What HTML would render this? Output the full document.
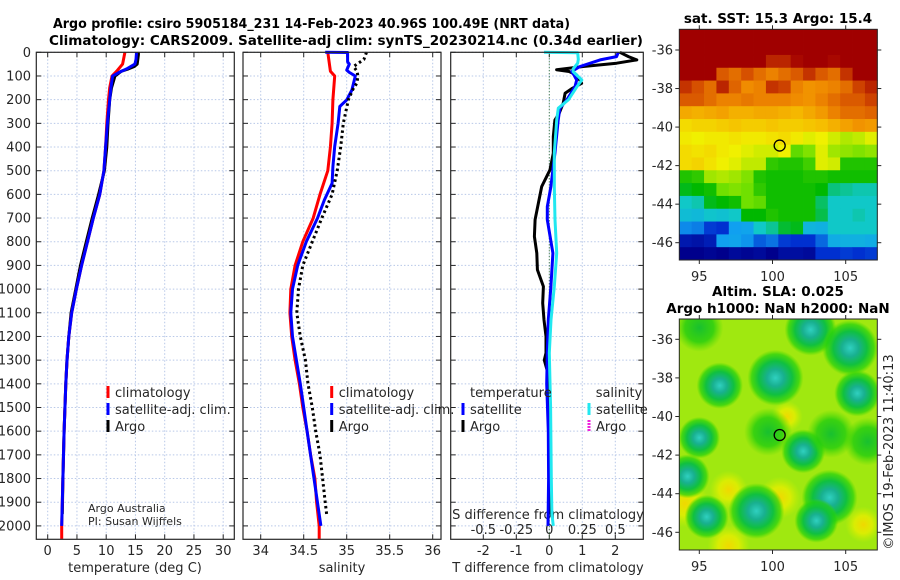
<!DOCTYPE html>
<html><head><meta charset="utf-8"><style>
html,body{margin:0;padding:0;background:#fff}
svg{display:block;font-family:"DejaVu Sans","Liberation Sans",sans-serif}
.t{font-size:13px;fill:#262626}
.ti{font-size:13.5px;font-weight:bold;fill:#000}
</style></head><body>
<svg id="fig" width="900" height="580" viewBox="0 0 900 580" xmlns="http://www.w3.org/2000/svg">
<rect width="900" height="580" fill="#fff"/>
<text class="ti" x="53" y="28" textLength="517" lengthAdjust="spacingAndGlyphs">Argo profile: csiro 5905184_231 14-Feb-2023 40.96S 100.49E (NRT data)</text>
<text class="ti" x="49" y="45" textLength="594" lengthAdjust="spacingAndGlyphs">Climatology: CARS2009. Satellite-adj clim: synTS_20230214.nc (0.34d earlier)</text>
<text class="ti" x="778" y="23" text-anchor="middle">sat. SST: 15.3 Argo: 15.4</text>
<text class="ti" x="778" y="296" text-anchor="middle">Altim. SLA: 0.025</text>
<text class="ti" x="778" y="313" text-anchor="middle">Argo h1000: NaN h2000: NaN</text>
<text class="t" x="135" y="572" text-anchor="middle">temperature (deg C)</text>
<text class="t" x="342" y="572" text-anchor="middle">salinity</text>
<text class="t" x="548" y="572" text-anchor="middle">T difference from climatology</text>
<text class="t" x="548" y="519" text-anchor="middle">S difference from climatology</text>
<text x="88" y="512" style="font-size:11px;fill:#262626">Argo Australia</text>
<text x="88" y="525" style="font-size:11px;fill:#262626">PI: Susan Wijffels</text>
<text class="t" transform="translate(893,452) rotate(-90)" text-anchor="middle">©IMOS 19-Feb-2023 11:40:13</text>
<g id="layer"></g>
</svg>
<script>
// ---------- data ----------
const depthTicks=[0,100,200,300,400,500,600,700,800,900,1000,1100,1200,1300,1400,1500,1600,1700,1800,1900,2000];
const tempTicks=[0,5,10,15,20,25,30];
const salTicks=[34,34.5,35,35.5,36];
const salTickLabels=["34","34.5","35","35.5","36"];
const tdiffTicks=[-2,-1,0,1,2];
const sdiffTicks=[-0.5,-0.25,0,0.25,0.5];
const sdiffTickLabels=["-0.5","-0.25","0","0.25","0.5"];

const argoTDepth=[0,10,30,50,60,70,80,100,150,200,300,400,500,600,700,800,900,1000,1100,1200,1300,1400,1600,1800,1950];
const argoTemp=[15.5,15.5,15.4,15.3,14.8,13.8,12.6,11.5,10.9,10.6,10.3,10.1,9.7,8.7,7.6,6.6,5.6,4.8,4.0,3.6,3.3,3.1,2.8,2.6,2.5];
const climTDepth=[0,50,80,100,150,200,300,400,500,600,700,800,900,1000,1100,1200,1300,1400,1600,1800,2000,2055];
const climTemp=[13.2,12.8,11.8,11.0,10.6,10.4,10.1,9.9,9.6,8.9,7.8,6.8,5.8,4.9,4.1,3.6,3.3,3.1,2.8,2.6,2.4,2.4];
const satTDepth=[0,30,50,70,85,100,150,200,300,400,500,600,700,800,900,1000,1100,1200,1300,1400,1600,1800,2000];
const satTemp=[15.2,15.1,14.9,13.5,12.2,11.1,10.8,10.6,10.2,9.9,9.6,8.9,7.8,6.8,5.8,4.9,4.1,3.6,3.3,3.1,2.8,2.6,2.4];

const climSDepth=[0,80,100,200,300,400,500,600,700,800,900,1000,1100,1200,1300,1400,1500,1600,1700,1800,1900,2000,2055];
const climSal=[34.78,34.81,34.86,34.84,34.83,34.81,34.78,34.69,34.61,34.49,34.40,34.35,34.34,34.36,34.40,34.45,34.49,34.54,34.58,34.63,34.65,34.68,34.68];
const satSDepth=[0,1,40,50,75,85,100,159,201,229,300,398,483,553,624,700,800,900,1000,1100,1200,1400,1600,1800,2000];
const satSal=[34.75,35.01,35.01,35.03,35.0,35.03,35.10,35.06,35.0,34.92,34.90,34.86,34.84,34.83,34.74,34.66,34.53,34.43,34.37,34.35,34.37,34.46,34.54,34.62,34.70];
const argoSDepth=[0,30,50,60,80,100,130,150,200,300,400,500,600,700,800,900,1000,1100,1200,1300,1400,1500,1600,1700,1800,1900,1960];
const argoSal=[35.23,35.2,35.12,35.08,35.12,35.13,35.12,35.08,35.02,34.96,34.93,34.89,34.83,34.71,34.60,34.49,34.44,34.42,34.46,34.52,34.55,34.60,34.64,34.69,34.72,34.75,34.77];

const satTdDepth=[0,18,32,60,81,96,117,145,201,236,286,426,567,652,707,848,989,1130,1270,1400,1600,1800,2000];
const satTdiff=[2.09,2.04,1.54,0.93,0.68,0.75,0.83,0.78,0.53,0.32,0.27,0.17,0.05,-0.06,-0.06,0.11,0.05,-0.03,-0.06,-0.08,-0.03,-0.02,-0.04];
const argoTdDepth=[0,18,32,46,60,74,81,96,131,152,173,215,257,286,356,426,496,567,637,707,778,848,918,989,1059,1130,1200,1270,1300,1350,1500,1950];
const argoTdiff=[2.14,2.4,2.65,2.04,1.03,0.22,0.6,0.83,0.98,0.7,0.48,0.42,0.3,0.17,0.12,0.12,0.02,-0.23,-0.33,-0.43,-0.45,-0.38,-0.36,-0.18,-0.2,-0.16,-0.1,-0.1,-0.15,-0.05,0,0];
const satSdDepth=[0,2,30,46,70,81,117,145,201,236,286,426,567,707,848,989,1130,1270,1500,1800,1950,2000];
const satSdiff=[-0.04,0.215,0.22,0.215,0.18,0.18,0.246,0.21,0.144,0.068,0.056,0.038,0.038,0.043,0.056,0.038,0.013,0,0.01,0.015,0.02,0.03];

const lonTicks=[95,100,105];
const latTicks=[-36,-38,-40,-42,-44,-46];
const argoLon=[100.49];
const argoLat=[-40.96];
const sstRows=[
[17,17,17,17,17,17,17,17,17,17,17,17,17,17,17,17],
[17,17,17,17,17,17,17,17,17,17,17,17,17,17,17,17],
[17,17,17,17,17,17,17,16.6,16.6,16.8,17,17,16.8,17,17,17],
[17,17,17,16.2,16,16.3,16,15.8,16,16.2,16.5,16.2,16,16.5,17,17],
[16.5,16.3,16,16.6,16.1,15.7,15.8,16.5,16.4,15.8,15.6,15.7,15.8,16,16.4,16.6],
[16.2,16.2,16,15.8,15.8,15.9,15.8,15.8,15.8,15.7,15.6,15.8,16,16.2,16.2,16.4],
[15.3,15.2,15.3,15.4,15.2,15.2,15.3,15.3,15.2,15.1,15.3,15.5,15.8,16,16,16.1],
[14.6,14.7,14.7,14.8,14.9,14.8,14.8,14.9,14.8,14.8,14.9,15,15.2,15.4,15.6,15.5],
[14.4,14.3,14.4,14.4,14.5,14.4,14.4,14.5,14.6,14.4,14.2,14.3,14.1,13.9,14,14.2],
[14.6,14.5,14.6,14.4,14.3,14.2,14.1,14.1,14.3,13.4,13.6,14.2,13.8,13.7,13.6,13.7],
[14.6,14.7,14.5,14.3,14.2,14.0,14.0,13.1,13.0,13.0,13.2,14.2,14.1,13.0,13.0,13.0],
[13.0,13.1,13.8,13.9,13.8,13.6,13.0,12.9,12.9,12.9,13.0,13.0,12.9,12.9,12.9,12.9],
[12.7,12.8,12.9,13.5,13.6,13.5,13.1,12.9,12.9,12.9,12.9,12.8,12.3,12.2,12.1,12.1],
[12.0,12.1,12.7,12.8,12.9,13.5,13.4,12.9,12.9,12.9,12.9,12.4,12.0,12.0,12.0,12.0],
[11.7,11.6,11.9,11.8,12.0,12.8,12.8,13.0,12.9,12.9,12.9,12.5,12.0,12.0,12.1,12.0],
[10.8,10.7,10.1,10.0,11.0,11.1,12.0,12.2,12.6,12.7,11.5,11.4,12.0,12.0,12.0,12.0],
[9.5,9.4,9.6,11.0,11.1,10.9,10.4,10.6,10.1,10.0,10.0,10.5,11.3,11.4,11.4,11.3],
[9.0,9.0,9.1,9.0,9.2,9.1,9.2,9.0,9.3,9.3,9.2,10.0,10.0,10.1,10.0,10.1]];
const eddyLon=[102.6,105.3,95.0,96.4,100.2,105.8,95.0,99.7,102.1,104.0,94.2,103.9,103.0,98.9,95.5,106.5];
const eddyLat=[-35.5,-36.45,-35.4,-38.4,-38.0,-38.8,-41.1,-40.8,-41.8,-40.9,-43.1,-44.2,-45.4,-44.9,-45.2,-41.3];
const eddySla=[-0.25,-0.3,-0.08,-0.18,-0.3,-0.18,-0.12,-0.08,-0.15,-0.08,-0.15,-0.3,-0.15,-0.3,-0.15,-0.08];
const highLon=[97.0,100.5,94.0,106.2,97.0,101.0];
const highLat=[-43.8,-44.2,-44.5,-45.6,-46.7,-40.0];
const highSla=[0.12,0.15,0.2,0.1,0.15,0.06];

// ---------- helpers ----------
const NS="http://www.w3.org/2000/svg";
const layer=document.getElementById('layer');
function el(tag,attrs,parent){const e=document.createElementNS(NS,tag);for(const k in attrs)e.setAttribute(k,attrs[k]);(parent||layer).appendChild(e);return e;}
const Y0=52.3,KY=0.2368,YB=539.3;
const yD=d=>Y0+d*KY;
const xT=v=>47.7+5.85*v;
const xS=v=>260.7+86*(v-34);
const xTd=v=>549.3+33*v;
const xSd=v=>549.3+132*v;
const panels=[{l:36.3,r:234.3,n:'temperature-panel'},{l:243,r:441,n:'salinity-panel'},{l:450.7,r:643.3,n:'difference-panel'}];

function txt(x,y,s,anchor,name,size){const e=el('text',{x:x,y:y,'text-anchor':anchor||'start',class:'t'});if(size)e.style.fontSize=size;e.textContent=s;


return e;}

panels.forEach((p,i)=>{
  const g=el('g',{});
  
  
  depthTicks.forEach(d=>{
    const y=yD(d);
    const gl=el('line',{x1:p.l,x2:p.r,y1:y,y2:y,stroke:'#b8c8e8','stroke-width':1,'stroke-dasharray':'1.5,2'},g);
    
    
    const t1=el('line',{x1:p.l,x2:p.l+5,y1:y,y2:y,stroke:'#262626'},g);
    
    
    const t2=el('line',{x1:p.r-5,x2:p.r,y1:y,y2:y,stroke:'#262626'},g);
    
    
  });
});
function xgrid(p,vals,f,labels,ly){
  vals.forEach((v,i)=>{const x=f(v);
    const gl=el('line',{x1:x,x2:x,y1:Y0,y2:YB,stroke:'#b8c8e8','stroke-dasharray':'1.5,2'});
    
    
    const a=el('line',{x1:x,x2:x,y1:Y0,y2:Y0+5,stroke:'#262626'});
    
    
    const b=el('line',{x1:x,x2:x,y1:YB-5,y2:YB,stroke:'#262626'});
    
    
    txt(x,ly,labels?labels[i]:String(v),'middle','x-tick-label');
  });
}
xgrid(panels[0],tempTicks,xT,null,555);
xgrid(panels[1],salTicks,xS,salTickLabels,555);
xgrid(panels[2],tdiffTicks,xTd,null,555);
sdiffTicks.forEach((v,i)=>txt(xSd(v),534,sdiffTickLabels[i],'middle','s-diff-tick-label'));
depthTicks.forEach(d=>txt(31,yD(d)+4.5,String(d),'end','depth-tick-label'));
const zl=el('line',{x1:xTd(0),x2:xTd(0),y1:Y0,y2:YB,stroke:'#2a6a2a','stroke-width':1,'stroke-dasharray':'1,2'});



function series(ds,vs,fx,color,w,dash,name){
  const pts=ds.map((d,i)=>fx(vs[i]).toFixed(1)+','+yD(d).toFixed(1)).join(' ');
  const e=el('polyline',{points:pts,fill:'none',stroke:color,'stroke-width':w,'stroke-linejoin':'round'});
  if(dash)e.setAttribute('stroke-dasharray',dash);
  
  
}
series(argoTDepth,argoTemp,xT,'#000',3,null,'argo-temperature-line');
series(climTDepth,climTemp,xT,'#ff0000',3,null,'climatology-temperature-line');
series(satTDepth,satTemp,xT,'#0000ff',3,null,'satellite-temperature-line');
series(climSDepth,climSal,xS,'#ff0000',3,null,'climatology-salinity-line');
series(satSDepth,satSal,xS,'#0000ff',3,null,'satellite-salinity-line');
series(argoSDepth,argoSal,xS,'#000',3,'2.5,3','argo-salinity-line');
series(argoTdDepth,argoTdiff,xTd,'#000',3,null,'argo-t-diff-line');
series(satTdDepth,satTdiff,xTd,'#0000ff',3,null,'satellite-t-diff-line');
series(satSdDepth,satSdiff,xSd,'#22e8f0',3,null,'satellite-s-diff-line');

panels.forEach(p=>{const f=el('rect',{x:p.l,y:Y0,width:p.r-p.l,height:YB-Y0,fill:'none',stroke:'#262626','stroke-width':1.2});

});

function leg(x,y,color,label,name,dash){
  const b=el('line',{x1:x,x2:x,y1:y-6,y2:y+6,stroke:color,'stroke-width':3});
  if(dash)b.setAttribute('stroke-dasharray',dash);
  
  
  txt(x+7,y+5,label,'start',name);
}
leg(108,392,'#ff0000','climatology','legend-entry-climatology');
leg(108,409,'#0000ff','satellite-adj. clim.','legend-entry-satellite');
leg(108,426,'#000','Argo','legend-entry-argo');
leg(331.7,392,'#ff0000','climatology','legend-entry-climatology');
leg(331.7,409,'#0000ff','satellite-adj. clim.','legend-entry-satellite');
leg(331.7,426,'#000','Argo','legend-entry-argo');
txt(470,397,'temperature','start','legend-header-temperature');
txt(595.7,397,'salinity','start','legend-header-salinity');
leg(463,409,'#0000ff','satellite','legend-entry-t-satellite');
leg(463,426,'#000','Argo','legend-entry-t-argo');
leg(589,409,'#22e8f0','satellite','legend-entry-s-satellite');
leg(589,426,'#ee22dd','Argo','legend-entry-s-argo','2,1');

// ---------- maps ----------
const MX0=679.3,MX1=877.3;
const lonX=lon=>699.3+(lon-95)*14.64;
const stops=[[9,[0,0,140]],[10,[0,48,208]],[11,[16,160,240]],[12,[16,200,200]],[12.8,[0,184,0]],[13.5,[112,224,0]],[14.3,[240,240,0]],[15,[246,190,0]],[15.7,[240,140,0]],[16.3,[214,80,0]],[16.8,[168,8,0]],[17,[160,0,0]]];
function cmap(v){if(v<=stops[0][0])return 'rgb('+stops[0][1]+')';
  for(let i=1;i<stops.length;i++){if(v<=stops[i][0]){const a=stops[i-1],b=stops[i],t=(v-a[0])/(b[0]-a[0]);
    return 'rgb('+a[1].map((c,k)=>Math.round(c+(b[1][k]-c)*t)).join(',')+')';}}
  return 'rgb('+stops[stops.length-1][1]+')';}
function mapAxes(top,bot,latY,name){
  const f=el('rect',{x:MX0,y:top,width:MX1-MX0,height:bot-top,fill:'none',stroke:'#262626','stroke-width':1});
  
  
  latTicks.forEach(l=>{const y=latY(l);
    const a=el('line',{x1:MX0-4,x2:MX0,y1:y,y2:y,stroke:'#262626'});
    
    
    const b=el('line',{x1:MX1,x2:MX1+4,y1:y,y2:y,stroke:'#262626'});
    
    
    txt(673,y+4.5,String(l),'end','lat-tick-label');});
  lonTicks.forEach(l=>{const x=lonX(l);
    const a=el('line',{x1:x,x2:x,y1:top-4,y2:top,stroke:'#262626'});
    
    
    const b=el('line',{x1:x,x2:x,y1:bot,y2:bot+4,stroke:'#262626'});
    
    
    txt(x,bot+21,String(l),'middle','lon-tick-label');});
}
const T1=29.3,B1=260;
const lat1=l=>50+(-36-l)*19.27;
const nR=sstRows.length,nC=sstRows[0].length;
const cw=(MX1-MX0)/nC,ch=(B1-T1)/nR;
sstRows.forEach((row,r)=>row.forEach((v,c)=>{
  const e=el('rect',{x:(MX0+c*cw).toFixed(2),y:(T1+r*ch).toFixed(2),width:(cw+0.4).toFixed(2),height:(ch+0.4).toFixed(2),fill:cmap(v)});
  
  
}));
const c1=el('circle',{cx:lonX(argoLon[0]),cy:lat1(argoLat[0]),r:5.5,fill:'none',stroke:'#000','stroke-width':1.3});


mapAxes(T1,B1,lat1,'sst-map');

const T2=319,B2=550;
const lat2=l=>339.3+(-36-l)*19.3;
const defs=el('defs',{});
defs.innerHTML='<clipPath id="clip2"><rect x="'+MX0+'" y="'+T2+'" width="'+(MX1-MX0)+'" height="'+(B2-T2)+'"/></clipPath>'+
'<radialGradient id="gLow"><stop offset="0" stop-color="#30d0c0"/><stop offset="0.3" stop-color="#18b090"/><stop offset="0.6" stop-color="#10c040"/><stop offset="0.85" stop-color="#20d010" stop-opacity="0.7"/><stop offset="1" stop-color="#40d800" stop-opacity="0"/></radialGradient>'+
'<radialGradient id="gWeak"><stop offset="0" stop-color="#18c030"/><stop offset="0.6" stop-color="#20cc10" stop-opacity="0.8"/><stop offset="1" stop-color="#40d800" stop-opacity="0"/></radialGradient>'+
'<radialGradient id="gHigh"><stop offset="0" stop-color="#f0d800"/><stop offset="0.5" stop-color="#e8ee00" stop-opacity="0.8"/><stop offset="1" stop-color="#d0f000" stop-opacity="0"/></radialGradient>';
const g2=el('g',{'clip-path':'url(#clip2)'});


const bg=el('rect',{x:MX0,y:T2,width:MX1-MX0,height:B2-T2,fill:'#a0e810'},g2);


highLon.forEach((lon,i)=>{const e=el('circle',{cx:lonX(lon),cy:lat2(highLat[i]),r:60*highSla[i]+12,fill:'url(#gHigh)'},g2);
  
  });
eddyLon.forEach((lon,i)=>{const a=-eddySla[i];const e=el('circle',{cx:lonX(lon),cy:lat2(eddyLat[i]),r:a>0.1?(16+40*a):24,fill:a>0.1?'url(#gLow)':'url(#gWeak)'},g2);
  
  });
const c2=el('circle',{cx:lonX(argoLon[0]),cy:lat2(argoLat[0]),r:5.5,fill:'none',stroke:'#000','stroke-width':1.3});


mapAxes(T2,B2,lat2,'sla-map');
</script>
</body></html>
